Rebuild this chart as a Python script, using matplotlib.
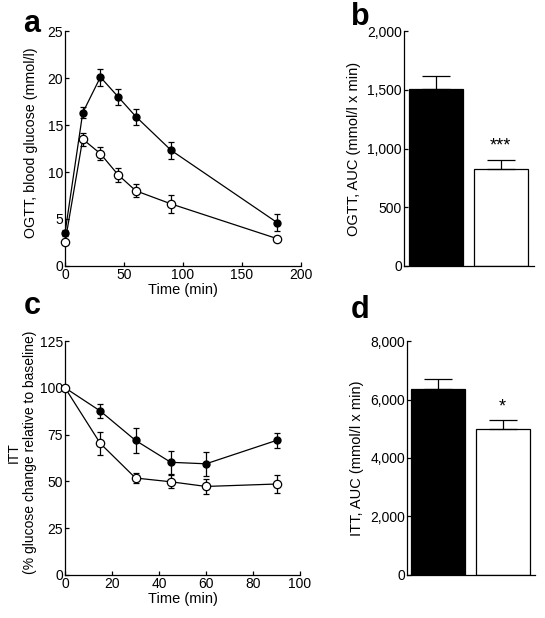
import matplotlib
matplotlib.use("Agg")
import matplotlib.pyplot as plt

plt.rcParams["font.family"] = ["Liberation Sans", "DejaVu Sans"]
plt.rcParams["font.size"] = 10

# OGTT time course (mmol/l)
ogtt_time = [0, 15, 30, 45, 60, 90, 180]
ogtt_black = [3.5, 16.3, 20.1, 18.0, 15.9, 12.3, 4.6]
ogtt_black_err = [0.3, 0.6, 0.9, 0.85, 0.85, 0.9, 0.9]
ogtt_white = [2.5, 13.5, 11.95, 9.7, 8.0, 6.6, 2.9]
ogtt_white_err = [0.2, 0.7, 0.7, 0.75, 0.7, 1.0, 0.25]

# OGTT AUC
ogtt_auc = [1510, 822]
ogtt_auc_err = [105, 83]

# ITT time course (% of baseline)
itt_time = [0, 15, 30, 45, 60, 90]
itt_black = [100, 87.6, 71.9, 60.2, 59.4, 71.9]
itt_black_err = [0.5, 3.5, 6.5, 6.0, 6.5, 4.0]
itt_white = [100, 70.3, 51.8, 49.8, 47.3, 48.6]
itt_white_err = [0.5, 6.0, 2.6, 3.4, 4.2, 4.6]

# ITT AUC
itt_auc = [6350, 5000]
itt_auc_err = [340, 300]

fig = plt.figure(figsize=(5.45, 6.18), dpi=100)

ax_a = fig.add_axes([0.1193, 0.5696, 0.4330, 0.3802])
ax_b = fig.add_axes([0.7413, 0.5696, 0.2385, 0.3802])
ax_c = fig.add_axes([0.1193, 0.0696, 0.4312, 0.3786])
ax_d = fig.add_axes([0.7468, 0.0696, 0.2349, 0.3786])


def style(ax):
    ax.spines["top"].set_visible(False)
    ax.spines["right"].set_visible(False)
    for s in ("left", "bottom"):
        ax.spines[s].set_linewidth(0.9)
    ax.tick_params(direction="in", length=3, width=0.9, pad=1.5, labelsize=10)


def time_course(ax, t, yb, eb, yw, ew):
    ax.errorbar(t, yb, yerr=eb, color="black", lw=0.9, marker="o", ms=5,
                mfc="black", mec="black", capsize=2.5, elinewidth=0.9, capthick=0.9,
                zorder=3, clip_on=False)
    ax.errorbar(t, yw, yerr=ew, color="black", lw=0.9, marker="o", ms=6,
                mfc="white", mec="black", mew=0.9, capsize=2.5, elinewidth=0.9,
                capthick=0.9, zorder=4, clip_on=False)


def bars(ax, vals, errs):
    ax.bar([0, 1], vals, width=0.83, color=["black", "white"], edgecolor="black",
           linewidth=0.9, yerr=[[0, 0], errs],
           error_kw=dict(capsize=10, elinewidth=0.9, capthick=0.9, ecolor="black"))


# panel a
style(ax_a)
time_course(ax_a, ogtt_time, ogtt_black, ogtt_black_err, ogtt_white, ogtt_white_err)
ax_a.set_xlim(0, 200)
ax_a.set_ylim(0, 25)
ax_a.set_xticks([0, 50, 100, 150, 200])
ax_a.set_yticks([0, 5, 10, 15, 20, 25])
ax_a.set_xlabel("Time (min)", fontsize=10.5, labelpad=1)
ax_a.set_ylabel("OGTT, blood glucose (mmol/l)", fontsize=10.3)
ax_a.yaxis.set_label_coords(-0.115, 0.525)

# panel b
style(ax_b)
bars(ax_b, ogtt_auc, ogtt_auc_err)
ax_b.set_xlim(-0.49, 1.51)
ax_b.set_ylim(0, 2000)
ax_b.set_xticks([])
ax_b.set_yticks([0, 500, 1000, 1500, 2000])
ax_b.set_yticklabels(["0", "500", "1,000", "1,500", "2,000"])
ax_b.set_ylabel("OGTT, AUC (mmol/l x min)", fontsize=10.5, labelpad=4)
ax_b.text(1, ogtt_auc[1] + ogtt_auc_err[1] + 40, "***", ha="center", va="bottom", fontsize=13)

# panel c
style(ax_c)
time_course(ax_c, itt_time, itt_black, itt_black_err, itt_white, itt_white_err)
ax_c.set_xlim(0, 100)
ax_c.set_ylim(0, 125)
ax_c.set_xticks([0, 20, 40, 60, 80, 100])
ax_c.set_yticks([0, 25, 50, 75, 100, 125])
ax_c.set_xlabel("Time (min)", fontsize=10.5, labelpad=1)
ax_c.set_ylabel("ITT\n(% glucose change relative to baseline)", fontsize=10,
                linespacing=1.15)
ax_c.yaxis.set_label_coords(-0.12, 0.525)

# panel d
style(ax_d)
bars(ax_d, itt_auc, itt_auc_err)
ax_d.set_xlim(-0.48, 1.50)
ax_d.set_ylim(0, 8000)
ax_d.set_xticks([])
ax_d.set_yticks([0, 2000, 4000, 6000, 8000])
ax_d.set_yticklabels(["0", "2,000", "4,000", "6,000", "8,000"])
ax_d.set_ylabel("ITT, AUC (mmol/l x min)", fontsize=10.5, labelpad=4)
ax_d.text(1, itt_auc[1] + itt_auc_err[1] + 150, "*", ha="center", va="bottom", fontsize=13)

# panel letters
for x, y, s in [(23, 32, "a"), (351, 25, "b"), (24, 314, "c"), (351, 318, "d")]:
    fig.text(x / 545, 1 - y / 618, s, fontsize=22, fontweight="bold", ha="left",
             va="baseline")

fig.savefig("out.png", dpi=100)
